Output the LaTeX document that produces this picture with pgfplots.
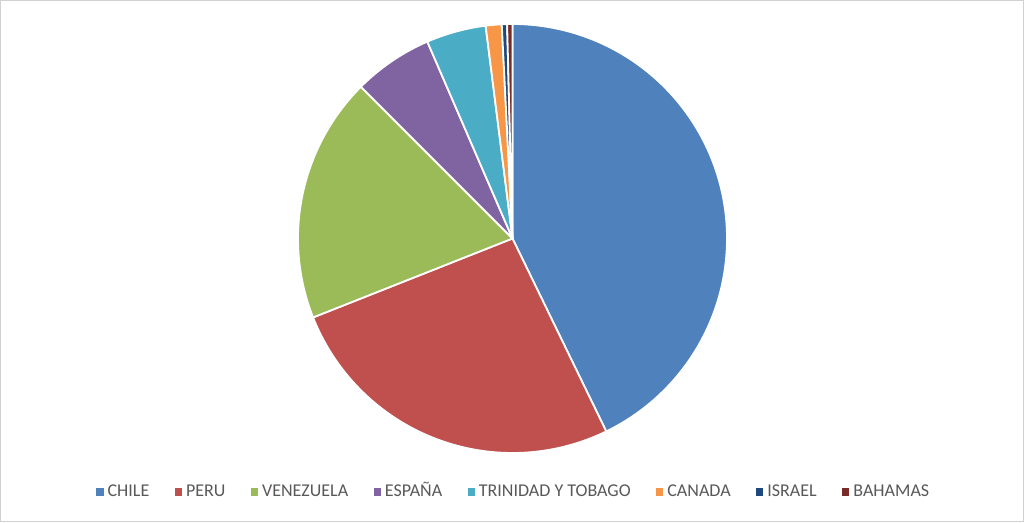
\documentclass[border=0pt]{standalone}
\usepackage{pgfplots}
\pgfplotsset{compat=1.18}
\usepackage{fontspec}
\setmainfont{Carlito}

\definecolor{cChile}{HTML}{4F81BD}
\definecolor{cPeru}{HTML}{C0504D}
\definecolor{cVen}{HTML}{9BBB59}
\definecolor{cEsp}{HTML}{8064A2}
\definecolor{cTri}{HTML}{4BACC6}
\definecolor{cCan}{HTML}{F79646}
\definecolor{cIsr}{HTML}{1F497D}
\definecolor{cBah}{HTML}{772C2A}
\definecolor{legtext}{HTML}{595959}

% one pie slice: colour, share in percent, name
\def\cum{0}
\newcommand\slice[3]{%
  \pgfmathsetmacro\sa{90-3.6*(\cum+#2)}%
  \pgfmathsetmacro\sb{90-3.6*\cum}%
  \addplot[fill=#1, draw=white, line width=1.8pt, line join=round,
    domain=\sa:\sb, samples=100, variable=\t]
    ({cos(\t)},{sin(\t)}) -- (0,0) -- cycle;
  \addlegendentry{#3}
  \pgfmathsetmacro\cumnew{\cum+#2}%
  \xdef\cum{\cumnew}%
}

\begin{document}
\begin{tikzpicture}
  \useasboundingbox (0,0) rectangle (1024pt,522pt);
  \fill[white] (0,0) rectangle (1024pt,522pt);
  \draw[color=black!18, line width=1.2pt] (0.6pt,0.6pt) rectangle (1023.4pt,521.4pt);
  \begin{axis}[
      at={(512.5pt,283.5pt)}, anchor=center,
      scale only axis, width=429pt, height=429pt,
      xmin=-1, xmax=1, ymin=-1, ymax=1,
      hide axis,
      clip=false,
      legend columns=-1,
      legend style={at={(0.503,-0.091)}, anchor=center, draw=none, fill=none,
        font=\fontsize{18}{20}\selectfont, text=legtext,
        nodes={text height=12pt, text depth=3pt},
        /tikz/every even column/.append style={column sep=23.5pt},
        /tikz/every odd column/.append style={column sep=2pt}},
      legend image code/.code={\fill[#1, draw=none] (0pt,-3.6pt) rectangle (7.2pt,3.6pt);},
    ]
    \slice{cChile}{42.8}{CHILE}
    \slice{cPeru}{26.2}{PERU}
    \slice{cVen}{18.5}{VENEZUELA}
    \slice{cEsp}{6.0}{ESPAÑA}
    \slice{cTri}{4.5}{TRINIDAD Y TOBAGO}
    \slice{cCan}{1.2}{CANADA}
    \slice{cIsr}{0.4}{ISRAEL}
    \slice{cBah}{0.4}{BAHAMAS}
  \end{axis}
\end{tikzpicture}
\end{document}
